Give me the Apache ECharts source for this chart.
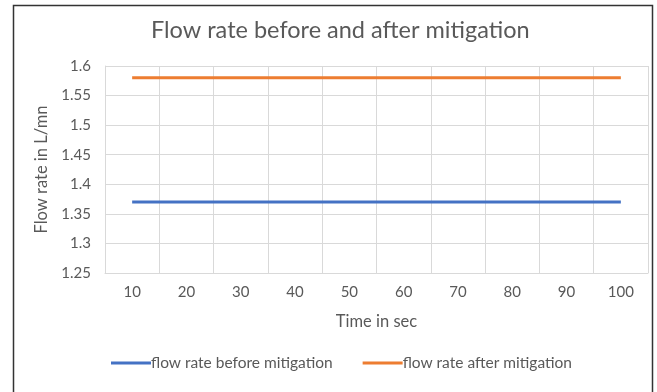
<!DOCTYPE html>
<html><head><meta charset="utf-8">
<script src="https://cdn.jsdelivr.net/npm/echarts@6/dist/echarts.min.js"></script>
<style>html,body{margin:0;padding:0;background:#fff}#c{width:657px;height:392px}</style>
</head><body><div id="c"></div>
<script>
const categories = ['10','20','30','40','50','60','70','80','90','100'];
const beforeMitigation = [1.37,1.37,1.37,1.37,1.37,1.37,1.37,1.37,1.37,1.37];
const afterMitigation = [1.58,1.58,1.58,1.58,1.58,1.58,1.58,1.58,1.58,1.58];
const seriesNames = ['flow rate before mitigation','flow rate after mitigation'];
const titleText = 'Flow rate before and after mitigation';
const yName = 'Flow rate in L/mn';
const xName = 'Time in sec';

const FONT = 'Lato';
const GREY = '#595959';
const chart = echarts.init(document.getElementById('c'), null, {renderer:'canvas'});
chart.setOption({
  animation:false,
  backgroundColor:'#fff',
  title:{text:titleText,left:146,top:13,textStyle:{fontFamily:FONT,fontSize:23.5,fontWeight:'normal',color:GREY}},
  graphic:[{type:'rect',shape:{x:13.5,y:5.5,width:639,height:400},style:{fill:'none',stroke:'#333',lineWidth:1.5},silent:true}],
  grid:{left:105,right:9,top:66,bottom:119,containLabel:false},
  legend:{
    bottom:16,left:106,itemWidth:40,itemHeight:3,itemGap:30,icon:'rect',
    textStyle:{fontFamily:FONT,fontSize:15.5,color:GREY,padding:[0,0,0,-5]},
    data:seriesNames
  },
  xAxis:{
    type:'category',data:categories,boundaryGap:true,
    name:xName,nameLocation:'middle',nameGap:40,
    nameTextStyle:{fontFamily:FONT,fontSize:16.5,color:GREY},
    axisLine:{show:true,lineStyle:{color:'#d9d9d9'}},axisTick:{show:false},
    axisLabel:{fontFamily:FONT,fontSize:15,color:GREY,margin:12},
    splitLine:{show:true,interval:0,lineStyle:{color:'#d9d9d9'}}
  },
  yAxis:{
    type:'value',min:1.25,max:1.6,interval:0.05,
    name:yName,nameLocation:'middle',nameGap:53,nameRotate:90,
    nameTextStyle:{fontFamily:FONT,fontSize:16.5,color:GREY},
    axisLine:{show:true,lineStyle:{color:'#d9d9d9'}},axisTick:{show:false},
    axisLabel:{fontFamily:FONT,fontSize:15,color:GREY,margin:14,formatter:v=>String(parseFloat(v.toFixed(2)))},
    splitLine:{show:true,lineStyle:{color:'#d9d9d9'}}
  },
  series:[
    {name:seriesNames[0],type:'line',data:beforeMitigation,symbol:'none',lineStyle:{width:3,color:'#4472C4'},itemStyle:{color:'#4472C4'}},
    {name:seriesNames[1],type:'line',data:afterMitigation,symbol:'none',lineStyle:{width:3,color:'#ED7D31'},itemStyle:{color:'#ED7D31'}}
  ]
});
</script></body></html>
